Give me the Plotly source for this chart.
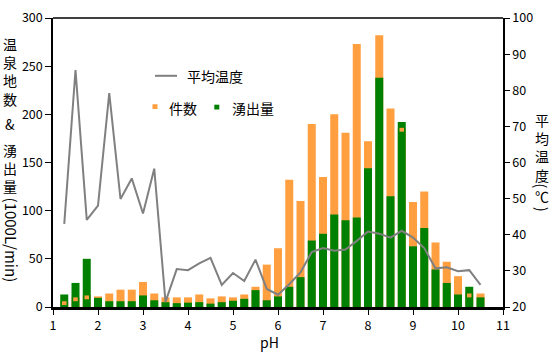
import plotly.graph_objects as go

# ---- data ----
ph = [1.25, 1.5, 1.75, 2.0, 2.25, 2.5, 2.75, 3.0, 3.25, 3.5, 3.75, 4.0,
      4.25, 4.5, 4.75, 5.0, 5.25, 5.5, 5.75, 6.0, 6.25, 6.5, 6.75, 7.0,
      7.25, 7.5, 7.75, 8.0, 8.25, 8.5, 8.75, 9.0, 9.25, 9.5, 9.75, 10.0,
      10.25, 10.5]
counts = [6, 10, 12, 11, 14, 18, 18, 26, 14, 10, 10, 10,
          13, 9, 11, 10, 13, 21, 44, 61, 132, 110, 190, 135,
          200, 181, 273, 172, 282, 206, 186, 109, 120, 67, 47, 32,
          14, 14]
flow = [13, 25, 50, 9.5, 6, 6, 6, 12, 7, 5, 4, 4.5,
        5, 3.5, 5, 6.5, 8.5, 17.5, 7, 11, 21, 31, 69, 76,
        96, 90, 93, 144, 238, 115, 192, 63, 82, 39, 25, 13,
        21, 10]
temp = [43.0, 85.6, 44.1, 48.1, 79.2, 49.9, 55.6, 45.9, 58.3, 21.4, 30.5, 30.2,
        32.1, 33.6, 26.1, 29.4, 27.2, 33.1, 25.0, 23.4, 26.3, 29.6, 35.2, 36.3,
        35.6, 35.9, 38.3, 40.9, 40.3, 39.2, 41.1, 39.2, 36.3, 30.7, 31.0, 29.9,
        30.2, 26.1]
x_ticks = [1, 2, 3, 4, 5, 6, 7, 8, 9, 10, 11]
left_ticks = [0, 50, 100, 150, 200, 250, 300]
right_ticks = [20, 30, 40, 50, 60, 70, 80, 90, 100]

ORANGE = "#FF9F40"
GREEN = "#008000"
GRAY = "#808080"
FONT = "Noto Sans CJK JP, Liberation Sans, sans-serif"

W, H = 557, 358
L, R, T, B = 53, 503, 7, 307  # plot area in px


def px(xp):
    return (xp - L) / (R - L)


def py(yp):
    return (B - yp) / (B - T)


fig = go.Figure()
fig.add_trace(go.Bar(x=ph, y=counts, width=0.178, marker_color=ORANGE,
                     marker_line_width=0, name="件数"))
fig.add_trace(go.Bar(x=ph, y=flow, width=0.178, marker_color=GREEN,
                     marker_line_width=0, name="湧出量"))
# small orange marks where the count bar is hidden behind the flow bar
hx = [p for p, c, f in zip(ph, counts, flow) if c < f]
hb = [c - 4 for c, f in zip(counts, flow) if c < f]
fig.add_trace(go.Bar(x=hx, y=[4] * len(hx), base=hb, width=0.1,
                     marker_color=ORANGE, marker_line_width=0,
                     showlegend=False))
fig.add_trace(go.Scatter(x=ph, y=temp, yaxis="y2", mode="lines",
                         line=dict(color=GRAY, width=2), name="平均温度"))

shapes = [
    dict(type="line", xref="paper", yref="paper", x0=0, x1=1, y0=1, y1=1,
         line=dict(color="black", width=1.5)),
    # legend samples
    dict(type="line", xref="paper", yref="paper", x0=px(155), x1=px(177),
         y0=py(67), y1=py(67), line=dict(color=GRAY, width=2)),
    dict(type="rect", xref="paper", yref="paper", x0=px(152.5), x1=px(157.5),
         y0=py(101.5), y1=py(96.5), fillcolor=ORANGE, line_width=0),
    dict(type="rect", xref="paper", yref="paper", x0=px(214.3), x1=px(219.3),
         y0=py(102), y1=py(97), fillcolor=GREEN, line_width=0),
]

ann = []


def add_text(t, xp, yp, size=14, angle=0, xanchor="center"):
    ann.append(dict(text=t, x=px(xp), y=py(yp), xref="paper", yref="paper",
                    showarrow=False, xanchor=xanchor, yanchor="middle",
                    textangle=angle, borderpad=0,
                    font=dict(family=FONT, size=size, color="black")))


# legend texts
add_text("平均温度", 186, 67, size=14, xanchor="left")
add_text("件数", 168, 100, size=14, xanchor="left")
add_text("湧出量", 231, 100, size=14, xanchor="left")

# left axis title (vertical writing)
add_text("温<br>泉<br>地<br>数", 10, 63)
add_text("&", 10, 117)
add_text("湧<br>出<br>量", 10, 163)
add_text("(1000L/min)", 11, 237, size=15, angle=90)

# right axis title
add_text("平<br>均<br>温<br>度", 542, 141.5)
add_text("(", 542, 180.5, size=15, angle=90)
add_text("℃", 542, 192)
add_text(")", 542, 205, size=15, angle=90)

# x-axis title
add_text("pH", 269, 343, size=14)

tick_font = dict(size=12.5, family=FONT)
fig.update_layout(
    width=W, height=H,
    margin=dict(l=L, r=W - R, t=T, b=H - B, pad=0),
    paper_bgcolor="white", plot_bgcolor="white",
    barmode="overlay", showlegend=False,
    font=dict(family=FONT, size=12, color="black"),
    shapes=shapes, annotations=ann,
    xaxis=dict(range=[1, 11], tickvals=x_ticks, ticks="outside", ticklen=5,
               tickwidth=1, tickcolor="black", showgrid=False, zeroline=False,
               showline=True, linecolor="black", linewidth=3,
               tickfont=tick_font, ticklabeloverflow="allow"),
    yaxis=dict(range=[0, 300], tickvals=left_ticks, ticks="outside",
               ticklen=6, tickwidth=1, tickcolor="black", showgrid=False,
               zeroline=False, showline=True, linecolor="black",
               linewidth=1.5, tickfont=tick_font, ticklabeloverflow="allow"),
    yaxis2=dict(range=[20, 100], tickvals=right_ticks, overlaying="y",
                side="right", ticks="outside", ticklen=5, tickwidth=1,
                tickcolor="black", showgrid=False, zeroline=False,
                showline=True, linecolor="black", linewidth=1.5,
                tickfont=tick_font, ticklabeloverflow="allow"),
)

fig.write_html("out.html", config={"displayModeBar": False},
               post_script="document.body.style.margin='0';"
                           "document.body.style.overflow='hidden';")
